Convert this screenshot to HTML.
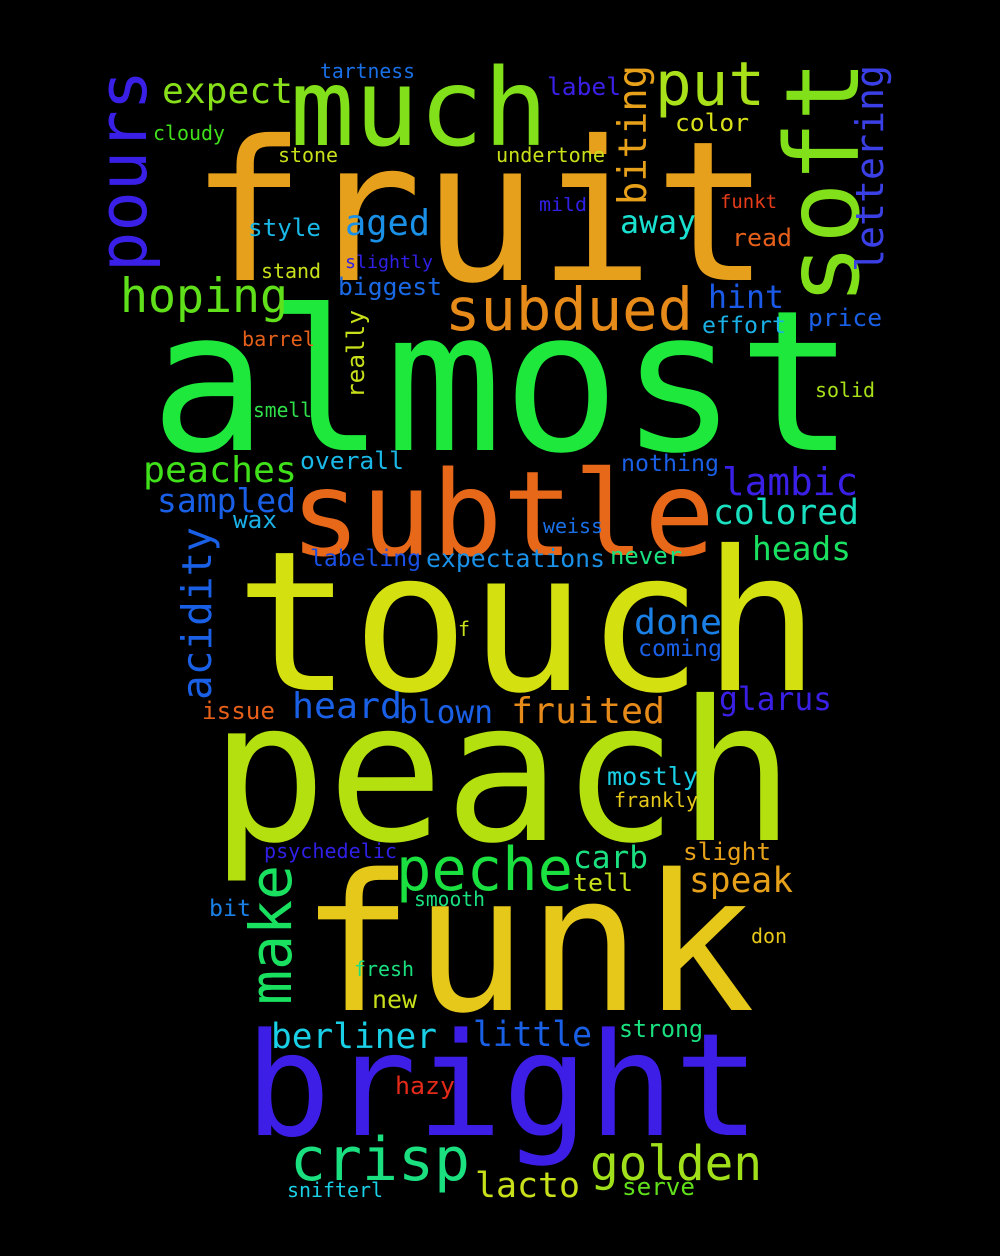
<!DOCTYPE html>
<html><head><meta charset="utf-8"><style>
html,body{margin:0;padding:0;background:#000;}
svg{display:block;}
text{font-family:"DejaVu Sans Mono","Liberation Mono",monospace;}
</style></head><body>
<svg id="cloud" width="1000" height="1256" viewBox="0 0 1000 1256" xmlns="http://www.w3.org/2000/svg">
<rect width="1000" height="1256" fill="#000"/>
</svg>
<script>
// word, left x (or baseline x if rotated), baseline y (or bottom y if rotated), length px, font size, color, rotated
const words = ["fruit","much","put","almost","subtle","touch","peach","funk","bright","expect","subdued","hoping","aged","style","away","hint","effort","price","biggest","stand","slightly","tartness","label","cloudy","stone","undertone","color","mild","funkt","read","barrel","solid","smell","peaches","overall","nothing","lambic","sampled","colored","wax","weiss","heads","labeling","expectations","never","done","f","coming","glarus","issue","heard","blown","fruited","mostly","frankly","slight","psychedelic","peche","carb","speak","tell","bit","smooth","don","fresh","new","berliner","little","strong","hazy","crisp","golden","lacto","serve","snifterl","pours","soft","lettering","biting","really","acidity","make"];
const xs = [190,290,655,150,290,235,210,300,245,162,445,120,345,248,620,708,702,808,338,261,345,320,547,153,278,496,675,539,720,732,242,815,253,143,300,621,722,157,713,233,543,752,310,426,610,634,458,638,719,202,292,399,511,607,614,683,264,396,573,689,573,209,414,751,354,372,271,473,619,395,290,590,475,622,287,146,858,883,646,364,211,291];
const ys = [280,145,105,450,555,690,840,1010,1135,103,330,312,235,236,233,308,333,326,295,278,268,78,95,140,162,162,131,211,208,246,346,397,417,482,469,471,495,512,524,528,533,560,566,567,564,634,636,656,710,719,718,723,723,785,807,860,858,890,868,892,891,916,906,943,976,1008,1048,1046,1037,1094,1180,1180,1197,1195,1197,272,305,272,205,398,700,1005];
const lens = [580,258,110,705,425,585,585,455,515,131,248,168,85,73,76,76,84,74,104,60,88,95,74,72,60,109,74,48,57,60,73,60,59,154,104,98,136,139,146,44,60,99,111,179,72,88,12,84,113,73,110,94,154,91,84,88,133,177,75,104,60,42,71,36,60,45,166,119,84,60,180,172,105,73,96,202,245,207,140,88,173,140];
const sizes = [195,107,61,196,118,195,195,190,143,36,59,47,36,24,32,32,23,24,24,20,18,20,24,20,20,20,24,19,19,24,20,20,20,36,24,23,38,33,35,24,20,33,23,25,24,35,20,23,32,24,36,32,36,25,20,24,20,60,31,35,24,23,20,20,20,25,35,35,24,24,60,48,35,24,20,67,102,38,39,24,41,58];
const colors = ["#e6a01c","#82e01a","#a8e01a","#1ee83c","#e8681a","#d4e010","#b4e010","#e6c81a","#3c1ee6","#88e01a","#e68a1a","#60e01a","#1a90e6","#1ab8e6","#1ae0d0","#1a5ae6","#1ab0e6","#1a60e6","#1a6ae6","#c8e01a","#3020e6","#1a70e6","#3a20e6","#40e01a","#c8e01a","#c8e01a","#d8e01a","#3020e6","#e63c1a","#e6601a","#e6601a","#a8e01a","#30e04a","#40e01a","#1ab8e6","#1a60e6","#3a20e6","#1a60e6","#1ae0c0","#1ab0e6","#1a70e6","#1ae060","#1a50e6","#1a90e6","#1ae080","#1a80e6","#c8e01a","#1a60e6","#3a20e6","#e6601a","#1a60e6","#1a60e6","#e68a1a","#1ad0e6","#e6c81a","#e6a01a","#3020e6","#1ae040","#1ae080","#e6a01a","#c8e01a","#1a80e6","#1ae080","#e6c81a","#1ae080","#c8e01a","#1ad0e6","#1a60e6","#1ae080","#e62a1a","#1ae080","#a0e01a","#c8e01a","#60e01a","#1ad0e6","#3a20e6","#82e01a","#3a40e6","#e6a01a","#c8e01a","#1a60e6","#1ae060"];
const rotated = ["pours","soft","lettering","biting","really","acidity","make"];
const svg = document.getElementById('cloud');
const NS = "http://www.w3.org/2000/svg";
words.forEach((w, i) => {
  const t = document.createElementNS(NS, 'text');
  
  
  t.setAttribute('font-size', sizes[i]);
  t.setAttribute('fill', colors[i]);
  t.setAttribute('textLength', lens[i]);
  t.setAttribute('lengthAdjust', 'spacingAndGlyphs');
  if (rotated.includes(w)) {
    t.setAttribute('x', 0);
    t.setAttribute('y', 0);
    t.setAttribute('transform', 'translate(' + xs[i] + ',' + ys[i] + ') rotate(-90)');
  } else {
    t.setAttribute('x', xs[i]);
    t.setAttribute('y', ys[i]);
  }
  t.textContent = w;
  svg.appendChild(t);
});
</script>
</body></html>
